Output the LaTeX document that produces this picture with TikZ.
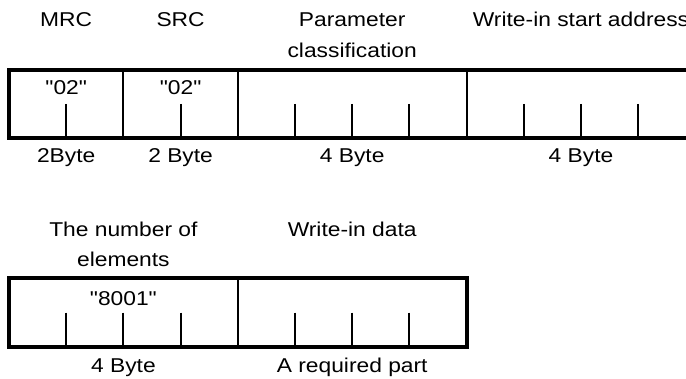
\documentclass[tikz,border=0pt]{standalone}
\usepackage{fontspec}
\setmainfont{Liberation Sans}[FakeStretch=1.14,Ligatures=TeXOff]
\begin{document}
\begin{tikzpicture}[x=1pt,y=1pt,
  frame/.style={line width=4pt},
  divider/.style={line width=2pt},
  tick/.style={line width=2pt},
  lbl/.style={inner sep=0pt,anchor=base,font=\fontsize{20pt}{24pt}\selectfont}]
\useasboundingbox (0,0) rectangle (686,378);
\clip (0,0) rectangle (686,378);
\def\u{57.2}
% ---- top row ----
\coordinate (tl) at (9,308);
\coordinate (bl) at (9,240);
\coordinate (tr) at (700,308);
\coordinate (br) at (700,240);
\foreach \k in {2,4,8,12}{
  \draw[divider] (9+\k*\u,308) -- (9+\k*\u,240);
}
\foreach \k in {1,3,5,6,7,9,10,11}{
  \draw[tick] (9+\k*\u,274) -- (9+\k*\u,240);
}
\draw[frame] (tr) -- (tl) -- (bl) -- (br);
% labels top row
\node[lbl] (mrc) at (9+1*\u,351) {MRC};
\node[lbl] (src) at (9+3*\u,351) {SRC};
\node[lbl] (par1) at (9+6*\u,351) {Parameter};
\node[lbl] (par2) at (9+6*\u,320) {classification};
\node[lbl] (wsa) at (9+10*\u,351) {Write-in start address};
\node[lbl] (v1) at (9+1*\u,283) {"02"};
\node[lbl] (v2) at (9+3*\u,283) {"02"};
\node[lbl] (b1) at (9+1*\u,215) {2Byte};
\node[lbl] (b2) at (9+3*\u,215) {2 Byte};
\node[lbl] (b3) at (9+6*\u,215) {4 Byte};
\node[lbl] (b4) at (9+10*\u,215) {4 Byte};
% ---- bottom row ----
\foreach \k in {4}{
  \draw[divider] (9+\k*\u,100) -- (9+\k*\u,31);
}
\foreach \k in {1,2,3,5,6,7}{
  \draw[tick] (9+\k*\u,65.5) -- (9+\k*\u,31);
}
\draw[frame] (9,31) rectangle (9+8*\u,100);
\node[lbl] (ne1) at (9+2*\u,141) {The number of};
\node[lbl] (ne2) at (9+2*\u,111) {elements};
\node[lbl] (wd) at (9+6*\u,141) {Write-in data};
\node[lbl] (v3) at (9+2*\u,73) {"8001"};
\node[lbl] (b5) at (9+2*\u,6) {4 Byte};
\node[lbl] (b6) at (9+6*\u,6) {A required part};
\end{tikzpicture}
\end{document}
